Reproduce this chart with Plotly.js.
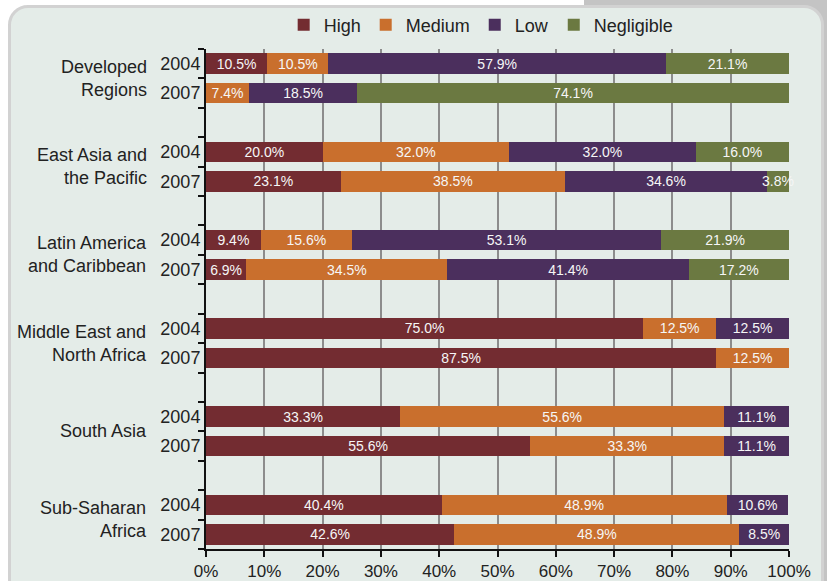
<!DOCTYPE html>
<html>
<head>
<meta charset="utf-8">
<script src="https://cdn.plot.ly/plotly-3.0.1.min.js"></script>
<style>
  html, body { margin: 0; padding: 0; width: 827px; height: 581px; overflow: hidden; background: #ffffff; }
  #grayband { position: absolute; left: 584px; top: 0; width: 243px; height: 581px; background: #c4c4c4; }
  #panel { position: absolute; left: 8px; top: 5px; width: 810px; height: 620px; background: #e4ece8;
           border: 3px solid #d2d2d2; border-radius: 20px; }
  #chart { position: absolute; left: 0; top: 0; width: 827px; height: 581px; }
</style>
</head>
<body>
<div id="grayband"></div>
<div id="panel"></div>
<div id="chart"></div>
<script>
// ---- data ----
const groups = ["Developed<br>Regions", "East Asia and<br>the Pacific", "Latin America<br>and Caribbean",
                "Middle East and<br>North Africa", "South Asia", "Sub-Saharan<br>Africa"];
const years = ["2004", "2007"];
const high       = [10.5, null, 20.0, 23.1, 9.4, 6.9, 75.0, 87.5, 33.3, 55.6, 40.4, 42.6];
const medium     = [10.5, 7.4, 32.0, 38.5, 15.6, 34.5, 12.5, 12.5, 55.6, 33.3, 48.9, 48.9];
const low        = [57.9, 18.5, 32.0, 34.6, 53.1, 41.4, 12.5, null, 11.1, 11.1, 10.6, 8.5];
const negligible = [21.1, 74.1, 16.0, 3.8, 21.9, 17.2, null, null, null, null, null, null];
const seriesNames = ["High", "Medium", "Low", "Negligible"];
const xTickVals = [0, 10, 20, 30, 40, 50, 60, 70, 80, 90, 100];
const xTickText = ["0%", "10%", "20%", "30%", "40%", "50%", "60%", "70%", "80%", "90%", "100%"];

// ---- layout helpers ----
const colors = ["#732c31", "#c96f2d", "#4b2f5d", "#6b7941"];
const font = "Liberation Sans, Arial, Helvetica, sans-serif";
const nRows = groups.length * years.length;
const rowPos = [];
const rowYear = [];
for (let i = 0; i < nRows; i++) {
  rowPos.push(Math.floor(i / 2) * 3 + (i % 2) + 0.5);
  rowYear.push(years[i % 2]);
}
const yMax = groups.length * 3 - 1;

const seriesValues = [high, medium, low, negligible];
const traces = seriesValues.map((vals, k) => ({
  type: "bar",
  orientation: "h",
  name: seriesNames[k],
  x: vals,
  y: rowPos,
  width: 0.7,
  marker: { color: colors[k], line: { width: 0 } },
  texttemplate: "%{x:.1f}%",
  textposition: "inside",
  insidetextanchor: "middle",
  textangle: 0,
  constraintext: "none",
  insidetextfont: { family: font, size: 14, color: "#f6f6f6" },
  hoverinfo: "skip",
  cliponaxis: false
}));

const annotations = groups.map((g, gi) => ({
  xref: "paper", yref: "y",
  x: -0.098, y: gi * 3 + 1,
  xanchor: "right", yanchor: "middle",
  align: "right",
  text: g,
  showarrow: false,
  font: { family: font, size: 18, color: "#222222" }
}));

const layout = {
  width: 827, height: 581,
  margin: { l: 206, r: 38, t: 49, b: 32, autoexpand: false },
  paper_bgcolor: "rgba(0,0,0,0)",
  plot_bgcolor: "rgba(0,0,0,0)",
  barmode: "stack",
  bargap: 0,
  font: { family: font, size: 17, color: "#222222" },
  showlegend: true,
  legend: {
    orientation: "h",
    x: 0.472, xanchor: "center",
    y: 1.048, yanchor: "middle",
    traceorder: "normal",
    itemwidth: 30,
    font: { family: font, size: 18, color: "#222222" },
    bgcolor: "rgba(0,0,0,0)"
  },
  xaxis: {
    range: [0, 100],
    tickmode: "array",
    tickvals: xTickVals,
    ticktext: xTickText,
    ticks: "outside",
    ticklen: 6,
    tickwidth: 2,
    tickcolor: "#111111",
    showline: true,
    linecolor: "#111111",
    linewidth: 2,
    showgrid: true,
    gridcolor: "#8c8c8c",
    gridwidth: 2,
    zeroline: false,
    fixedrange: true,
    tickfont: { family: font, size: 17, color: "#222222" }
  },
  yaxis: {
    range: [yMax, 0],
    tickmode: "array",
    tickvals: rowPos,
    ticktext: rowYear,
    ticks: "",
    showline: true,
    linecolor: "#111111",
    linewidth: 2,
    showgrid: false,
    zeroline: false,
    fixedrange: true,
    tickfont: { family: font, size: 18, color: "#222222" },
    minor: {
      tickmode: "linear",
      tick0: 0,
      dtick: 1,
      ticks: "outside",
      ticklen: 6,
      tickwidth: 2,
      tickcolor: "#111111",
      showgrid: false
    }
  },
  annotations: annotations
};

Plotly.newPlot("chart", traces, layout, { displayModeBar: false, staticPlot: true });
</script>
</body>
</html>
